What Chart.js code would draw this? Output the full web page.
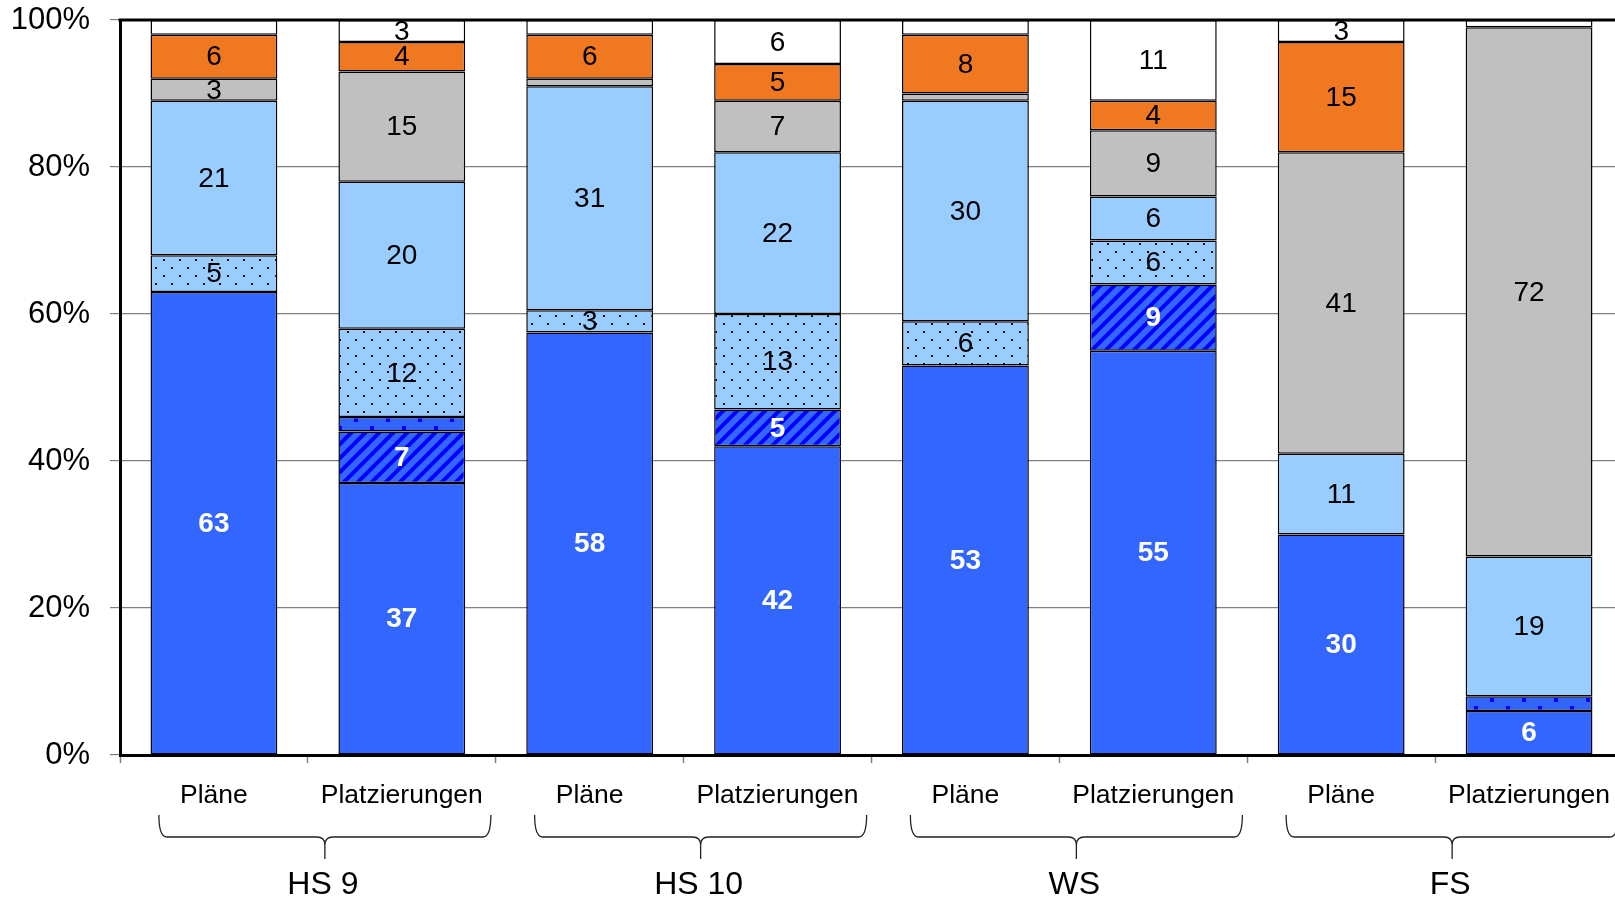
<!DOCTYPE html>
<html>
<head>
<meta charset="utf-8">
<script src="https://cdn.jsdelivr.net/npm/chart.js@4/dist/chart.umd.min.js"></script>
<style>
  html, body { margin: 0; padding: 0; background: #fff; overflow: hidden; }
  canvas { display: block; }
</style>
</head>
<body>
<canvas id="myChart" width="1640" height="901"></canvas>
<script>
// categories (bottom level) and groups (second level)
const categories = ['Pläne', 'Platzierungen', 'Pläne', 'Platzierungen', 'Pläne', 'Platzierungen', 'Pläne', 'Platzierungen'];
const groups = ['HS 9', 'HS 10', 'WS', 'FS'];
const yTicks = [0, 20, 40, 60, 80, 100];

// segments, bottom to top (percent)
const darkBlue    = [63, 37, 57.5, 42, 53, 55, 30, 6];
const hatched     = [0, 7, 0, 5, 0, 9, 0, 0];
const darkDotted  = [0, 2, 0, 0, 0, 0, 0, 2];
const lightDotted = [5, 12, 3, 13, 6, 6, 0, 0];
const lightBlue   = [21, 20, 30.5, 22, 30, 6, 11, 19];
const grey        = [3, 15, 1, 7, 1, 9, 41, 72];
const orange      = [6, 4, 6, 5, 8, 4, 15, 0];
const white       = [2, 3, 2, 6, 2, 11, 3, 1];

const FONT = 'Liberation Sans, Arial, sans-serif';

function makePattern(w, h, draw) {
    const c = document.createElement('canvas');
    c.width = w;
    c.height = h;
    const g = c.getContext('2d');
    draw(g);
    return c.getContext('2d').createPattern(c, 'repeat');
}

const hatchPattern = makePattern(14, 14, function(g) {
    g.fillStyle = '#3366FF';
    g.fillRect(0, 0, 14, 14);
    g.strokeStyle = '#0000FF';
    g.lineWidth = 4;
    g.beginPath();
    g.moveTo(-2, 16); g.lineTo(16, -2);
    g.moveTo(-9, 9); g.lineTo(9, -9);
    g.moveTo(5, 23); g.lineTo(23, 5);
    g.stroke();
});

const darkDotPattern = makePattern(32, 16, function(g) {
    g.fillStyle = '#3366FF';
    g.fillRect(0, 0, 32, 16);
    g.fillStyle = '#0000FF';
    g.fillRect(2, 2, 4, 4);
    g.fillRect(18, 10, 4, 4);
});

const lightDotPattern = makePattern(16, 16, function(g) {
    g.fillStyle = '#99CCFF';
    g.fillRect(0, 0, 16, 16);
    g.fillStyle = '#000000';
    g.fillRect(3, 3, 2, 2);
    g.fillRect(11, 11, 2, 2);
});

function series(data, fill, labelColor, bold) {
    return {
        data: data,
        backgroundColor: fill,
        borderColor: '#000000',
        borderWidth: 1.5,
        borderSkipped: false,
        barPercentage: 0.675,
        categoryPercentage: 1,
        labelColor: labelColor,
        labelBold: bold
    };
}

const datasets = [
    series(darkBlue, '#3366FF', '#FFFFFF', true),
    series(hatched, hatchPattern, '#FFFFFF', true),
    series(darkDotted, darkDotPattern, '#FFFFFF', true),
    series(lightDotted, lightDotPattern, '#000000', false),
    series(lightBlue, '#99CCFF', '#000000', false),
    series(grey, '#C0C0C0', '#000000', false),
    series(orange, '#F07820', '#000000', false),
    series(white, '#FFFFFF', '#000000', false)
];

// numbers inside the segments
const segmentLabels = {
    id: 'segmentLabels',
    afterDatasetsDraw(chart) {
        const ctx = chart.ctx;
        ctx.save();
        ctx.textAlign = 'center';
        ctx.textBaseline = 'middle';
        chart.data.datasets.forEach(function(ds, i) {
            const meta = chart.getDatasetMeta(i);
            meta.data.forEach(function(bar, j) {
                const v = ds.data[j];
                if (!v || v < 3) return;
                ctx.font = (ds.labelBold ? 'bold ' : '') + '28px ' + FONT;
                ctx.fillStyle = ds.labelColor;
                ctx.fillText(String(Math.round(v)), bar.x, (bar.y + bar.base) / 2 + 1);
            });
        });
        ctx.restore();
    }
};

// top frame line, braces and group names
const frameAndGroups = {
    id: 'frameAndGroups',
    afterDraw(chart) {
        const ctx = chart.ctx;
        const area = chart.chartArea;
        const x = chart.scales.x;
        ctx.save();
        ctx.strokeStyle = '#000000';
        ctx.lineWidth = 3;
        ctx.beginPath();
        ctx.moveTo(area.left - 1.5, area.top);
        ctx.lineTo(area.right, area.top);
        ctx.stroke();

        ctx.lineWidth = 1.3;
        ctx.strokeStyle = '#222222';
        ctx.fillStyle = '#000000';
        ctx.font = '32px ' + FONT;
        ctx.textAlign = 'center';
        ctx.textBaseline = 'middle';
        groups.forEach(function(name, k) {
            const mid = (x.getPixelForValue(2 * k) + x.getPixelForValue(2 * k + 1)) / 2;
            const cx = mid + 17;
            const x0 = cx - 166, x1 = cx + 166;
            const top = 815, line = 837, tip = 859;
            ctx.beginPath();
            ctx.moveTo(x0, top);
            ctx.quadraticCurveTo(x0, line, x0 + 8, line);
            ctx.lineTo(cx - 8, line);
            ctx.quadraticCurveTo(cx, line, cx, line + 8);
            ctx.lineTo(cx, tip);
            ctx.moveTo(cx, line + 8);
            ctx.quadraticCurveTo(cx, line, cx + 8, line);
            ctx.lineTo(x1 - 8, line);
            ctx.quadraticCurveTo(x1, line, x1, top);
            ctx.stroke();
            ctx.fillText(name, cx - 2, 885);
        });
        ctx.restore();
    }
};

const ctx = document.getElementById('myChart').getContext('2d');

new Chart(ctx, {
    type: 'bar',
    data: {
        labels: categories,
        datasets: datasets
    },
    options: {
        responsive: false,
        animation: false,
        layout: {
            padding: { top: 20, right: 17, left: 0, bottom: 0 }
        },
        plugins: {
            legend: { display: false },
            tooltip: { enabled: false }
        },
        scales: {
            x: {
                stacked: true,
                afterFit: function(scale) { scale.height = 146; },
                grid: {
                    drawOnChartArea: false,
                    tickLength: 8,
                    tickColor: '#808080',
                    tickWidth: 1.5
                },
                border: { display: true, color: '#000000', width: 3 },
                ticks: {
                    color: '#000000',
                    font: { family: FONT, size: 26.5 },
                    padding: 17,
                    maxRotation: 0,
                    autoSkip: false
                }
            },
            y: {
                stacked: true,
                min: 0,
                max: 100,
                afterFit: function(scale) {
                    scale.width = 120;
                    scale.paddingTop = 0;
                    scale.paddingBottom = 0;
                },
                afterBuildTicks: function(scale) {
                    scale.ticks = yTicks.map(v => ({ value: v }));
                },
                grid: {
                    color: '#808080',
                    lineWidth: 1.2,
                    tickLength: 10,
                    tickColor: '#808080'
                },
                border: { display: true, color: '#000000', width: 3 },
                ticks: {
                    color: '#000000',
                    font: { family: FONT, size: 31 },
                    padding: 20,
                    callback: function(v) { return v + '%'; }
                }
            }
        }
    },
    plugins: [segmentLabels, frameAndGroups]
});
</script>
</body>
</html>
